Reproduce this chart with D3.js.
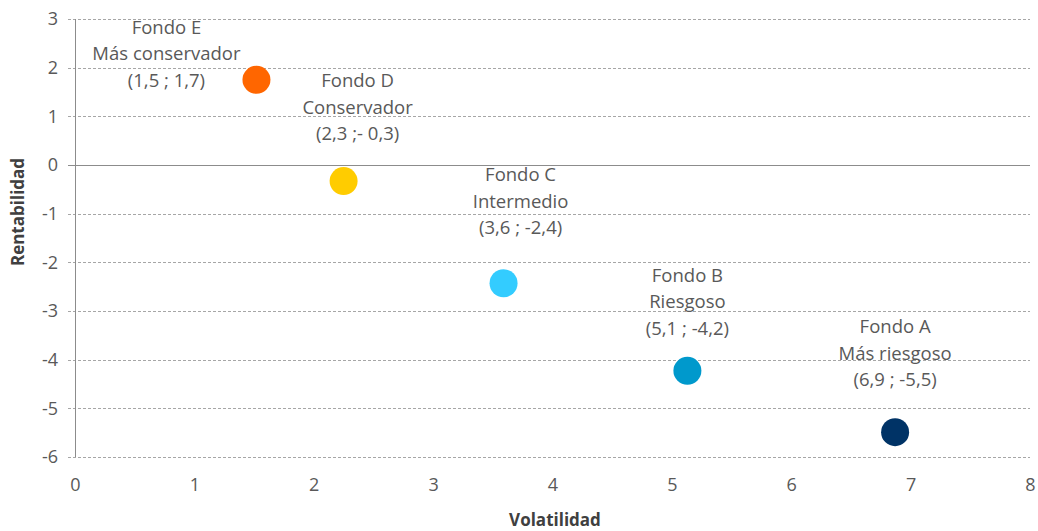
<!DOCTYPE html>
<html>
<head>
<meta charset="utf-8">
<script src="https://cdn.jsdelivr.net/npm/d3@7"></script>
<style>
    body { margin: 0; background: #fff; }
    text { font-family: "Open Sans", sans-serif; fill: #595959; }
</style>
</head>
<body>
<svg class="canvas" width="1038" height="531"></svg>
<script>
const fundNames = ['Fondo E', 'Fondo D', 'Fondo C', 'Fondo B', 'Fondo A'];
const fundTypes = ['Más conservador', 'Conservador', 'Intermedio', 'Riesgoso', 'Más riesgoso'];
const fundCoords = ['(1,5 ; 1,7)', '(2,3 ;- 0,3)', '(3,6 ; -2,4)', '(5,1 ; -4,2)', '(6,9 ; -5,5)'];
const volatilidad = [1.52, 2.25, 3.59, 5.13, 6.87];
const rentabilidad = [1.75, -0.33, -2.43, -4.23, -5.49];
const fundColors = ['#FF6600', '#FFCC00', '#33CCFF', '#0099CC', '#003366'];
const xTicks = [0, 1, 2, 3, 4, 5, 6, 7, 8];
const yTicks = [3, 2, 1, 0, -1, -2, -3, -4, -5, -6];

// label placement (pixels from the point to the middle line)
const labelShift = [[-90, -26], [14, -74], [17, -82], [0, -69], [0, -79]];

const plotLeft = 75, plotRight = 1030, plotTop = 19, plotBottom = 457;

const x = d3.scaleLinear().domain([0, 8]).range([plotLeft, plotRight]);
const y = d3.scaleLinear().domain([-6, 3]).range([plotBottom, plotTop]);

const canvas = d3.select('.canvas');

// gridlines
canvas.append('g')
    .selectAll('line')
    .data(yTicks)
    .enter()
    .append('line')
    .attr('x1', plotLeft - 7)
    .attr('x2', plotRight)
    .attr('y1', d => Math.round(y(d)) + 0.5)
    .attr('y2', d => Math.round(y(d)) + 0.5)
    .attr('stroke', d => d === 0 ? '#8c8c8c' : '#a6a6a6')
    .attr('stroke-width', 1)
    .attr('stroke-dasharray', d => d === 0 ? null : '3,2');

// y axis line
canvas.append('line')
    .attr('x1', plotLeft + 0.5).attr('x2', plotLeft + 0.5)
    .attr('y1', plotTop).attr('y2', plotBottom)
    .attr('stroke', '#8c8c8c');

const yAxis = d3.axisLeft(y).tickValues(yTicks).tickSize(0).tickPadding(0)
    .tickFormat(d => String(d));
canvas.append('g')
    .attr('transform', `translate(${plotLeft - 17}, 0)`)
    .call(yAxis)
    .call(g => g.select('.domain').remove())
    .call(g => g.selectAll('text')
        .style('font-family', '"Open Sans", sans-serif')
        .style('font-size', '18px')
        .attr('fill', '#595959'));

const xAxis = d3.axisBottom(x).tickValues(xTicks).tickSize(0).tickPadding(0);
canvas.append('g')
    .attr('transform', `translate(0, ${plotBottom + 21})`)
    .call(xAxis)
    .call(g => g.select('.domain').remove())
    .call(g => g.selectAll('text')
        .style('font-family', '"Open Sans", sans-serif')
        .style('font-size', '18px')
        .attr('fill', '#595959'));

// axis titles
canvas.append('text')
    .attr('x', 555)
    .attr('y', 526)
    .attr('text-anchor', 'middle')
    .style('font-size', '17px')
    .style('font-weight', 'bold')
    .style('fill', '#404040')
    .text('Volatilidad');

canvas.append('text')
    .attr('transform', 'translate(24, 212) rotate(-90)')
    .attr('text-anchor', 'middle')
    .style('font-size', '17px')
    .style('font-weight', 'bold')
    .style('fill', '#404040')
    .text('Rentabilidad');

// points
canvas.append('g')
    .selectAll('circle')
    .data(fundNames)
    .enter()
    .append('circle')
    .attr('cx', (d, i) => x(volatilidad[i]))
    .attr('cy', (d, i) => y(rentabilidad[i]))
    .attr('r', 14)
    .attr('fill', (d, i) => fundColors[i]);

// labels
const labels = canvas.append('g')
    .selectAll('text')
    .data(fundNames)
    .enter()
    .append('text')
    .attr('text-anchor', 'middle')
    .style('font-size', '18.5px')
    .attr('transform', (d, i) =>
        `translate(${x(volatilidad[i]) + labelShift[i][0]}, ${y(rentabilidad[i]) + labelShift[i][1]})`);

labels.each(function (d, i) {
    const t = d3.select(this);
    [fundNames[i], fundTypes[i], fundCoords[i]].forEach((line, k) => {
        t.append('tspan')
            .attr('x', 0)
            .attr('y', (k - 1) * 26.5 + 6.5)
            .text(line);
    });
});
</script>
</body>
</html>
